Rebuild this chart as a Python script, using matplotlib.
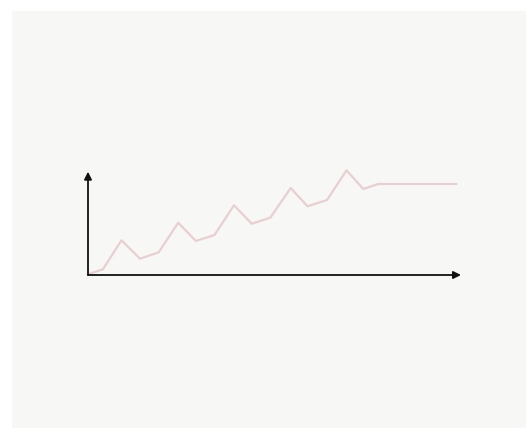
import matplotlib
matplotlib.use("Agg")
import matplotlib.pyplot as plt
from matplotlib.patches import Rectangle

# values (x in steps, y in arbitrary units)
x_vals = [0, 0.8, 1.8, 2.8, 3.8, 4.85, 5.8, 6.8, 7.85, 8.8, 9.8,
          10.9, 11.8, 12.85, 13.9, 14.8, 15.6, 19.8]
y_vals = [0.7, 5.7, 34.7, 16.3, 22.7, 52.3, 34, 40, 69.7, 51.3, 57.3,
          87, 68.7, 75, 104.7, 86, 91, 91]

W, H = 526, 428
fig = plt.figure(figsize=(W / 100, H / 100), dpi=100, facecolor="white")

# light gray panel behind everything
fig.add_artist(Rectangle((12 / W, 0), 1 - 12 / W, 1 - 11 / H,
                         transform=fig.transFigure, facecolor="#f7f7f5",
                         edgecolor="none", zorder=-10))

ax = fig.add_axes([88 / W, (H - 275) / H, (461 - 88) / W, (275 - 171.7) / H])
ax.set_zorder(5)
ax.set_facecolor("none")
ax.plot(x_vals, y_vals, color="#e8cfd1", lw=1.6, clip_on=False)
ax.set_xlim(0, (461 - 88) / 18.6)
ax.set_ylim(0, 103.3)

for s in ax.spines.values():
    s.set_visible(False)
ax.set_xticks([])
ax.set_yticks([])

arrow = dict(arrowstyle="-|>", color="#111111", lw=1.3, shrinkA=0, shrinkB=0,
             mutation_scale=11)
ax.annotate("", xy=(1, 0), xytext=(0, 0), xycoords="axes fraction",
            textcoords="axes fraction", arrowprops=arrow)
ax.annotate("", xy=(0, 1), xytext=(0, 0), xycoords="axes fraction",
            textcoords="axes fraction", arrowprops=arrow)

fig.savefig("out.png", dpi=100, facecolor="white")
